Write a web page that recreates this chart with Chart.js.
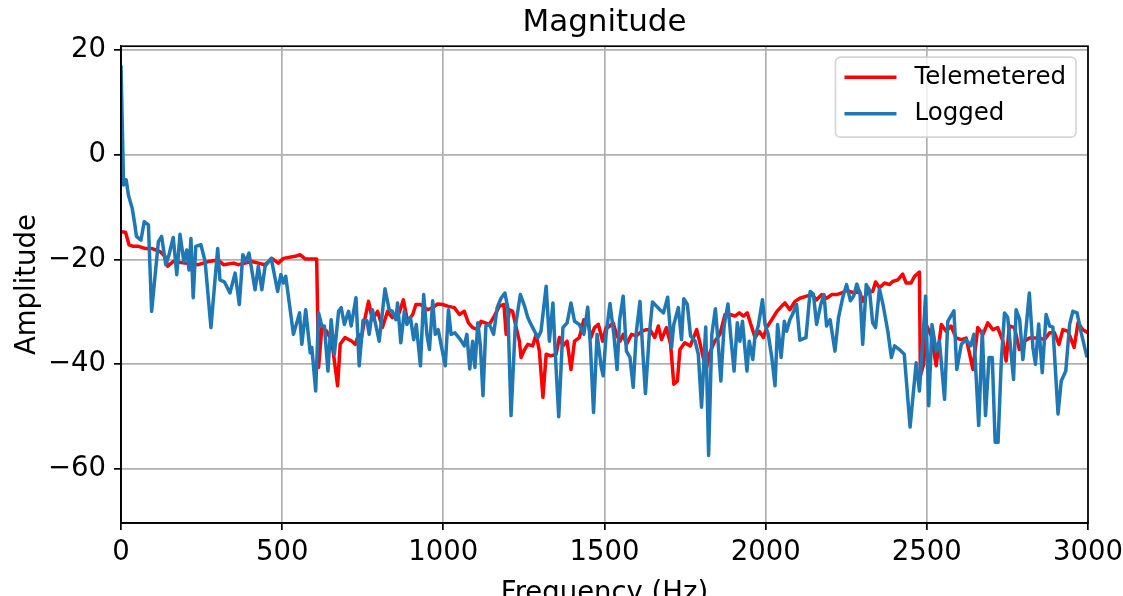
<!DOCTYPE html>
<html>
<head>
	<meta http-equiv="Content-Type" content="text/html; charset=utf-8"/>
	<script type="text/javascript" src="https://cdn.jsdelivr.net/npm/chart.js@4.4.1/dist/chart.umd.min.js"></script>
	<style type="text/css">
		html, body { margin: 0; padding: 0; background: #fff; overflow: hidden; }
		#wrap { width: 1123px; height: 596px; overflow: hidden; }
	</style>
</head>
<body>
	<div id="wrap">
		<canvas id="chart" width="1123" height="620"></canvas>
	</div>
	<script type="text/javascript">
		var titulo = "Magnitude";
		var ejeX = "Frequency (Hz)";
		var ejeY = "Amplitude";
		var xTicks = [0, 500, 1000, 1500, 2000, 2500, 3000];
		var yTicks = [-60, -40, -20, 0, 20];

		var telemLabel = "Telemetered";
		var telemHz = [0, 14, 25, 38, 54, 74, 95, 121, 136, 145, 162, 199, 240, 271, 302, 318, 349, 364, 385, 406,
			426, 447, 468, 488, 504, 540, 556, 571, 607, 613, 623, 638, 654, 672, 680, 695, 716, 727, 737, 744,
			755, 768, 780, 796, 811, 827, 842, 853, 863, 876, 889, 905, 915, 930, 951, 967, 982, 998, 1013, 1034,
			1050, 1065, 1078, 1091, 1107, 1117, 1130, 1143, 1158, 1174, 1188, 1195, 1205, 1215, 1226, 1236, 1241, 1252, 1262, 1277,
			1288, 1298, 1309, 1319, 1334, 1350, 1360, 1371, 1384, 1396, 1407, 1422, 1436, 1448, 1458, 1469, 1481, 1494, 1505, 1511,
			1527, 1537, 1548, 1558, 1568, 1584, 1599, 1615, 1630, 1641, 1656, 1667, 1677, 1692, 1705, 1715, 1726, 1734, 1749, 1766,
			1786, 1796, 1806, 1817, 1827, 1842, 1858, 1874, 1889, 1905, 1918, 1931, 1943, 1957, 1967, 1980, 1993, 2003, 2019, 2035,
			2050, 2060, 2075, 2091, 2106, 2127, 2143, 2158, 2174, 2189, 2205, 2220, 2236, 2251, 2260, 2275, 2291, 2301, 2317, 2332,
			2341, 2353, 2369, 2384, 2394, 2410, 2425, 2436, 2451, 2462, 2477, 2480, 2490, 2500, 2514, 2529, 2545, 2560, 2575, 2591,
			2607, 2622, 2643, 2658, 2674, 2689, 2705, 2720, 2736, 2746, 2756, 2772, 2787, 2803, 2818, 2834, 2849, 2865, 2881, 2896,
			2910, 2922, 2938, 2957, 2969, 2984, 3000];
		var telemDb = [-14.7, -14.8, -17.2, -17.5, -17.5, -17.9, -17.9, -18.5, -19.4, -21.3, -20.4, -20.7, -21, -20.4, -20.1, -21, -20.7, -21, -20.7, -20.4,
			-20.7, -21, -19.8, -20.7, -19.8, -19.4, -19.1, -19.9, -19.9, -40.6, -33, -33.7, -35.6, -44.1, -36.2, -34.9, -35.6, -36.2, -34.3, -35.6,
			-31.8, -28, -31.5, -29.9, -33, -29.9, -31.1, -30.5, -30.2, -27.7, -31.8, -30.5, -28.6, -28.6, -29.6, -29.2, -28.5, -28.6, -28.9, -29.2,
			-30.5, -29.9, -32.1, -33, -33.4, -31.8, -32.1, -32.4, -30.8, -28.9, -28.6, -34.3, -29.6, -29.9, -33, -35.6, -38.7, -37.2, -36.2, -36.5,
			-34.3, -37.5, -46.3, -38.1, -38.4, -38.1, -34.9, -36.5, -35.6, -41, -35.6, -34.9, -31.5, -31.8, -34.9, -33, -32.4, -35.6, -33, -33,
			-32.1, -34.3, -35.6, -34.3, -36.2, -34.3, -34.6, -33.7, -33.4, -33.4, -34.9, -32.7, -35.3, -33, -36.2, -43.8, -43.2, -37.2, -35.9, -36.5,
			-33.4, -35.9, -38.7, -40.6, -37.8, -35.6, -34.3, -30.5, -30.5, -30.8, -30.2, -30.8, -30.2, -33, -34.9, -33.7, -34.9, -33, -31.5, -29.9,
			-28.9, -28.3, -29.6, -28, -27.4, -27, -26.7, -27.7, -26.7, -27.4, -26.7, -26.7, -26.4, -25.9, -26.1, -26.4, -26.1, -28, -26.1, -26.1,
			-24.3, -25.4, -24.5, -24.8, -24.2, -23.9, -22.8, -24.5, -24.5, -23.2, -22.4, -42.2, -40, -32.7, -34.6, -40.3, -32.4, -33.7, -32.7, -35,
			-35.3, -35, -41, -33, -34.3, -32.1, -33.4, -33, -35.6, -39.4, -32.7, -33, -37.2, -35.6, -35, -35, -35, -35.3, -34, -34,
			-36.2, -33.4, -33.7, -36.8, -32.1, -33.4, -34];

		var loggedLabel = "Logged";
		var loggedHz = [0, 8, 16, 23, 35, 43, 48, 62, 72, 85, 95, 116, 126, 139, 149, 162, 173, 183, 195, 204,
			211, 217, 224, 232, 248, 261, 279, 300, 307, 321, 338, 354, 367, 378, 387, 397, 416, 426, 437, 447,
			466, 486, 496, 504, 511, 535, 554, 561, 573, 587, 592, 604, 613, 623, 631, 642, 652, 662, 675, 683,
			693, 706, 714, 729, 739, 751, 763, 770, 780, 791, 801, 819, 832, 842, 853, 858, 868, 879, 887, 898,
			908, 916, 929, 939, 949, 957, 967, 975, 984, 1006, 1016, 1024, 1036, 1053, 1065, 1073, 1082, 1091, 1098, 1107,
			1115, 1123, 1132, 1143, 1156, 1167, 1179, 1191, 1200, 1210, 1223, 1239, 1252, 1262, 1272, 1283, 1293, 1303, 1319, 1329,
			1340, 1347, 1358, 1371, 1384, 1396, 1407, 1422, 1436, 1448, 1456, 1466, 1477, 1490, 1496, 1505, 1517, 1529, 1539, 1547,
			1558, 1568, 1579, 1589, 1599, 1610, 1618, 1627, 1639, 1649, 1661, 1672, 1683, 1696, 1708, 1715, 1729, 1739, 1746, 1757,
			1767, 1781, 1791, 1801, 1814, 1823, 1833, 1844, 1853, 1861, 1871, 1883, 1892, 1902, 1912, 1920, 1928, 1942, 1949, 1960,
			1967, 1977, 1990, 1998, 2008, 2019, 2029, 2037, 2048, 2058, 2065, 2075, 2083, 2096, 2106, 2125, 2138, 2148, 2158, 2171,
			2181, 2189, 2200, 2215, 2226, 2239, 2251, 2263, 2273, 2283, 2293, 2301, 2312, 2322, 2332, 2341, 2353, 2364, 2379, 2390,
			2400, 2415, 2430, 2448, 2467, 2477, 2488, 2496, 2506, 2516, 2529, 2539, 2555, 2565, 2584, 2593, 2607, 2622, 2636, 2646,
			2661, 2672, 2682, 2693, 2703, 2712, 2721, 2731, 2741, 2751, 2769, 2777, 2788, 2798, 2808, 2818, 2829, 2837, 2847, 2858,
			2870, 2881, 2891, 2907, 2917, 2931, 2943, 2953, 2966, 2979, 2997];
		var loggedDb = [17, -5.8, -4.8, -7.7, -10.3, -13.4, -15.6, -16.3, -12.8, -13.4, -29.9, -16.6, -15.6, -21, -19.1, -15.8, -22.9, -15.2, -20.4, -18.2,
			-22, -16, -27.3, -17.5, -17.2, -20.4, -33, -17.9, -23.9, -24.3, -26.4, -22.6, -28.6, -19.1, -20.4, -18.8, -25.8, -21.3, -25.8, -21.3,
			-19.8, -26.1, -22.9, -24.5, -23.2, -34.3, -30.2, -36.2, -29.6, -37.8, -36.8, -45.1, -30.2, -32.7, -32.7, -41.3, -31.5, -38.1, -29.9, -29.2,
			-32.4, -29.9, -32.7, -27.3, -40.3, -31.6, -31.7, -34.3, -29.6, -32.7, -35.6, -25.6, -29.6, -29.9, -31.5, -28.3, -35.9, -29.9, -32.4, -31.1,
			-35.3, -32.4, -40.3, -26.7, -34.3, -37.2, -27.9, -34.3, -33.4, -40.3, -29.6, -34.3, -34, -35.3, -36.5, -34.3, -40.9, -35.6, -40.6, -32.1,
			-36.5, -46, -32.7, -32.4, -34.3, -29.2, -27.4, -26.4, -29.2, -49.8, -33, -26.7, -28.9, -31.1, -32.4, -33.7, -35, -33.7, -25.1, -35.6,
			-28.3, -37.5, -50, -33, -32.1, -28.3, -31.8, -32.4, -34.3, -29.1, -36.2, -49.2, -34.3, -40.6, -42.2, -34.3, -28.4, -34.3, -41, -31.5,
			-27, -37.5, -38.7, -44.4, -33.7, -28, -36.8, -45.6, -34.3, -28.1, -28.9, -29.6, -30.2, -27.2, -36.8, -32.4, -29.2, -35.3, -27.5, -28.6,
			-34.6, -35.6, -38.1, -48.2, -32.9, -57.4, -34.3, -29.4, -36.2, -43.2, -32.7, -28.5, -34.9, -41.3, -32.1, -35.6, -31.8, -41.3, -35.6, -39.1,
			-34.6, -32.7, -27.7, -32.4, -34.3, -38.7, -44.1, -32.4, -38.7, -31.8, -33.7, -31.5, -30.5, -28.6, -35.4, -34.9, -26.1, -26.6, -32.4, -28.6,
			-26.7, -32.7, -31.5, -37.5, -31.1, -27.3, -24.8, -27.9, -27, -24.7, -26.7, -36.2, -24.8, -25.8, -32.1, -33, -25.6, -28.6, -33.7, -38.7,
			-36.5, -37.2, -38.1, -52, -39.7, -45.1, -34.9, -27, -47.9, -32.4, -37.5, -35.6, -46.7, -31.8, -29.8, -41, -36.2, -35.3, -36.5, -34.3,
			-51.7, -33.7, -49.8, -38.7, -38.7, -54.9, -54.9, -39.4, -30.2, -31.1, -42.9, -29.6, -31.5, -39.1, -33, -26.4, -36.8, -40, -32.3, -41.6,
			-30.5, -32.7, -32.9, -49.5, -43.2, -41.3, -32.4, -29.9, -30.2, -34, -38.7];

		function puntos(xs, ys) {
			var out = [];
			for (var i = 0; i < xs.length; i++) {
				out.push({x: xs[i], y: ys[i]});
			}
			return out;
		}

		function etiqueta(v) {
			return v < 0 ? "\u2212" + Math.abs(v) : String(v);
		}

		var fuente = "'DejaVu Sans', sans-serif";

		// titulo centrado sobre el area del grafico, no sobre todo el canvas
		var centrarTitulo = {
			id: "centrarTitulo",
			afterLayout: function(chart) {
				var t = chart.titleBlock, a = chart.chartArea;
				if (!t) return;
				t.left = a.left;
				t.right = a.right;
				t.width = a.right - a.left;
			}
		};

		// marco negro alrededor del area del grafico
		var marco = {
			id: "marco",
			afterDatasetsDraw: function(chart) {
				var a = chart.chartArea, ctx = chart.ctx;
				ctx.save();
				ctx.strokeStyle = "#000";
				ctx.lineWidth = 1.7;
				ctx.strokeRect(a.left, a.top, a.right - a.left, a.bottom - a.top);
				ctx.restore();
			}
		};

		// leyenda dentro del grafico, arriba a la derecha
		var leyenda = {
			id: "leyenda",
			afterDraw: function(chart) {
				var a = chart.chartArea, ctx = chart.ctx;
				var ds = chart.data.datasets.slice().sort(function(p, q) { return p.legendIndex - q.legendIndex; });
				ctx.save();
				ctx.font = "24.5px " + fuente;
				var tw = 0;
				ds.forEach(function(d) { tw = Math.max(tw, ctx.measureText(d.label).width); });
				var w = 9 + 52 + 18 + tw + 10, h = 80;
				var x = a.right - 12 - w, y = a.top + 11;
				ctx.beginPath();
				ctx.roundRect(x, y, w, h, 5);
				ctx.fillStyle = "rgba(255,255,255,0.8)";
				ctx.fill();
				ctx.strokeStyle = "rgba(204,204,204,0.8)";
				ctx.lineWidth = 1.7;
				ctx.stroke();
				ds.forEach(function(d, i) {
					var yy = y + 20 + i * 36.5;
					ctx.beginPath();
					ctx.moveTo(x + 9, yy);
					ctx.lineTo(x + 61, yy);
					ctx.strokeStyle = d.borderColor;
					ctx.lineWidth = 3.5;
					ctx.stroke();
					ctx.fillStyle = "#000";
					ctx.textBaseline = "middle";
					ctx.fillText(d.label, x + 79, yy);
				});
				ctx.restore();
			}
		};

		var canvas = document.getElementById("chart").getContext("2d");
		window.grafico = new Chart(canvas, {
			type: "line",
			data: {
				datasets: [{
					label: telemLabel,
					legendIndex: 0,
					order: 2,
					data: puntos(telemHz, telemDb),
					borderColor: "#ff0000",
					borderWidth: 3.5,
					borderJoinStyle: "round",
					pointRadius: 0,
					tension: 0
				}, {
					label: loggedLabel,
					legendIndex: 1,
					order: 1,
					data: puntos(loggedHz, loggedDb),
					borderColor: "#1f77b4",
					borderWidth: 3.5,
					borderJoinStyle: "round",
					pointRadius: 0,
					tension: 0
				}]
			},
			options: {
				responsive: false,
				animation: false,
				devicePixelRatio: 1,
				layout: { padding: { left: 0, right: 35, top: 0, bottom: 0 } },
				plugins: {
					legend: { display: false },
					tooltip: { enabled: false },
					title: {
						display: true,
						text: titulo,
						color: "#000",
						font: { family: fuente, size: 31, weight: "normal" },
						padding: { top: 4, bottom: 5 }
					}
				},
				scales: {
					x: {
						type: "linear",
						min: 0,
						max: 3000,
						afterBuildTicks: function(s) { s.ticks = xTicks.map(function(v) { return {value: v}; }); },
						afterFit: function(s) { s.height = 97; s.paddingLeft = 0; s.paddingRight = 0; },
						grid: { color: "#b0b0b0", lineWidth: 1.7, tickColor: "#000", tickLength: 7, tickWidth: 1.7 },
						border: { display: true, color: "#000", width: 1.7 },
						ticks: { color: "#000", padding: 6, maxRotation: 0, font: { family: fuente, size: 27.5 }, callback: etiqueta },
						title: { display: true, text: ejeX, color: "#000", font: { family: fuente, size: 27.5 }, padding: { top: 0, bottom: 10 } }
					},
					y: {
						type: "linear",
						min: -70.3,
						max: 20.7,
						afterBuildTicks: function(s) { s.ticks = yTicks.map(function(v) { return {value: v}; }); },
						afterFit: function(s) { s.width = 121; },
						grid: { color: "#b0b0b0", lineWidth: 1.7, tickColor: "#000", tickLength: 7, tickWidth: 1.7 },
						border: { display: true, color: "#000", width: 1.7 },
						ticks: { color: "#000", padding: 8, font: { family: fuente, size: 27.5 }, callback: etiqueta },
						title: { display: true, text: ejeY, color: "#000", font: { family: fuente, size: 27.5 }, padding: { top: 11, bottom: 0 } }
					}
				}
			},
			plugins: [centrarTitulo, marco, leyenda]
		});
	</script>
</body>
</html>
